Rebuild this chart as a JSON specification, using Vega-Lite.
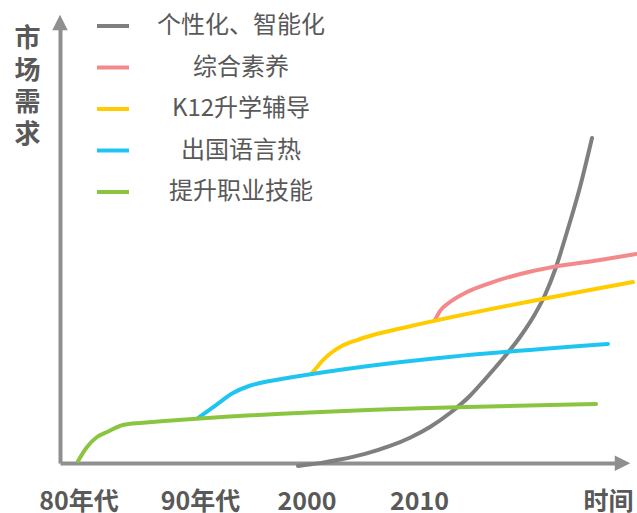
{
  "$schema": "https://vega.github.io/schema/vega-lite/v6.json",
  "width": 560,
  "height": 438,
  "autosize": {"type": "none"},
  "padding": {"left": 60, "top": 25, "right": 17, "bottom": 50},
  "background": "white",
  "config": {"view": {"stroke": null}, "font": "Noto Sans CJK SC"},
  "datasets": {
    "lines": [
      {"series": "个性化、智能化", "t": 42.12, "d": -0.89},
      {"series": "个性化、智能化", "t": 46.02, "d": -0.25},
      {"series": "个性化、智能化", "t": 49.56, "d": 0.54},
      {"series": "个性化、智能化", "t": 53.98, "d": 1.81},
      {"series": "个性化、智能化", "t": 58.41, "d": 3.58},
      {"series": "个性化、智能化", "t": 61.95, "d": 5.44},
      {"series": "个性化、智能化", "t": 65.49, "d": 7.83},
      {"series": "个性化、智能化", "t": 69.03, "d": 10.96},
      {"series": "个性化、智能化", "t": 72.57, "d": 14.83},
      {"series": "个性化、智能化", "t": 75.22, "d": 18.5},
      {"series": "个性化、智能化", "t": 77.88, "d": 22.37},
      {"series": "个性化、智能化", "t": 81.42, "d": 27.96},
      {"series": "个性化、智能化", "t": 84.07, "d": 33.11},
      {"series": "个性化、智能化", "t": 85.84, "d": 37.36},
      {"series": "个性化、智能化", "t": 87.61, "d": 42.95},
      {"series": "个性化、智能化", "t": 89.73, "d": 51.45},
      {"series": "个性化、智能化", "t": 92.04, "d": 61.52},
      {"series": "个性化、智能化", "t": 94.16, "d": 72.48},
      {"series": "综合素养", "t": 66.37, "d": 31.77},
      {"series": "综合素养", "t": 67.26, "d": 33.78},
      {"series": "综合素养", "t": 69.03, "d": 35.79},
      {"series": "综合素养", "t": 72.04, "d": 38.03},
      {"series": "综合素养", "t": 76.11, "d": 40.04},
      {"series": "综合素养", "t": 83.72, "d": 42.73},
      {"series": "综合素养", "t": 87.26, "d": 43.62},
      {"series": "综合素养", "t": 95.58, "d": 45.19},
      {"series": "综合素养", "t": 101.95, "d": 46.53},
      {"series": "K12升学辅导", "t": 44.6, "d": 19.91},
      {"series": "K12升学辅导", "t": 45.66, "d": 21.48},
      {"series": "K12升学辅导", "t": 46.55, "d": 22.82},
      {"series": "K12升学辅导", "t": 47.96, "d": 24.38},
      {"series": "K12升学辅导", "t": 49.56, "d": 25.73},
      {"series": "K12升学辅导", "t": 52.57, "d": 27.29},
      {"series": "K12升学辅导", "t": 55.4, "d": 28.41},
      {"series": "K12升学辅导", "t": 61.42, "d": 30.2},
      {"series": "K12升学辅导", "t": 101.42, "d": 40.27},
      {"series": "出国语言热", "t": 24.42, "d": 9.84},
      {"series": "出国语言热", "t": 27.61, "d": 12.75},
      {"series": "出国语言热", "t": 30.62, "d": 15.44},
      {"series": "出国语言热", "t": 33.45, "d": 17.0},
      {"series": "出国语言热", "t": 37.17, "d": 18.12},
      {"series": "出国语言热", "t": 40.71, "d": 18.9},
      {"series": "出国语言热", "t": 96.99, "d": 26.4},
      {"series": "提升职业技能", "t": 3.19, "d": 0.22},
      {"series": "提升职业技能", "t": 4.78, "d": 3.36},
      {"series": "提升职业技能", "t": 6.55, "d": 5.59},
      {"series": "提升职业技能", "t": 8.32, "d": 6.71},
      {"series": "提升职业技能", "t": 11.15, "d": 8.28},
      {"series": "提升职业技能", "t": 14.16, "d": 8.72},
      {"series": "提升职业技能", "t": 94.87, "d": 12.98}
    ],
    "arrowUp": [{"t": 0, "d": 98.32}],
    "arrowRight": [{"t": 99.56, "d": -0.3}]
  },
  "layer": [
    {
      "data": {"name": "lines"},
      "mark": {"type": "line", "strokeWidth": 4, "interpolate": "monotone", "strokeCap": "round"},
      "encoding": {
        "x": {
          "field": "t", "type": "quantitative",
          "scale": {"domain": [0, 99.115], "nice": false, "zero": false},
          "axis": {
            "title": null,
            "values": [3.27, 24.78, 43.63, 63.54, 96.99],
            "labelExpr": "datum.value < 10 ? '80年代' : datum.value < 30 ? '90年代' : datum.value < 50 ? '2000' : datum.value < 80 ? '2010' : '时间'",
            "domainColor": "#8f8f8f", "domainWidth": 4,
            "ticks": false, "tickSize": 0, "grid": false,
            "labelFontSize": 25, "labelFontWeight": "bold", "labelColor": "#595959",
            "labelPadding": 38, "labelBaseline": "middle", "labelFlush": false, "labelOverlap": false
          }
        },
        "y": {
          "field": "d", "type": "quantitative",
          "scale": {"domain": [-0.224, 97.763], "nice": false, "zero": false},
          "axis": {
            "domainColor": "#8f8f8f", "domainWidth": 4,
            "ticks": false, "labels": false, "grid": false,
            "title": ["市", "场", "需", "求"],
            "titleAngle": 0, "titleX": -33, "titleY": 0,
            "titleAlign": "center", "titleBaseline": "top",
            "titleFontSize": 26, "titleFontWeight": "bold", "titleColor": "#595959",
            "titleLineHeight": 32
          }
        },
        "color": {
          "field": "series", "type": "nominal",
          "scale": {
            "domain": ["个性化、智能化", "综合素养", "K12升学辅导", "出国语言热", "提升职业技能"],
            "range": ["#7f7f7f", "#f3898b", "#ffcc00", "#1fc5f1", "#8bc53f"]
          },
          "legend": {
            "title": null, "orient": "none", "legendX": 35, "legendY": -17,
            "symbolType": "stroke", "symbolSize": 1024, "symbolStrokeWidth": 4,
            "labelFontSize": 24, "labelColor": "#595959", "labelAlign": "center",
            "labelOffset": 110, "rowPadding": 11.5, "labelLimit": 400, "padding": 0
          }
        }
      }
    },
    {
      "data": {"name": "arrowUp"},
      "mark": {"type": "point", "shape": "M0,-1L1,1L-1,1Z", "filled": true, "size": 240, "color": "#8f8f8f", "opacity": 1},
      "encoding": {
        "x": {"field": "t", "type": "quantitative"},
        "y": {"field": "d", "type": "quantitative"}
      }
    },
    {
      "data": {"name": "arrowRight"},
      "mark": {"type": "point", "shape": "M1,0L-1,-1L-1,1Z", "filled": true, "size": 240, "color": "#8f8f8f", "opacity": 1},
      "encoding": {
        "x": {"field": "t", "type": "quantitative"},
        "y": {"field": "d", "type": "quantitative"}
      }
    }
  ]
}
